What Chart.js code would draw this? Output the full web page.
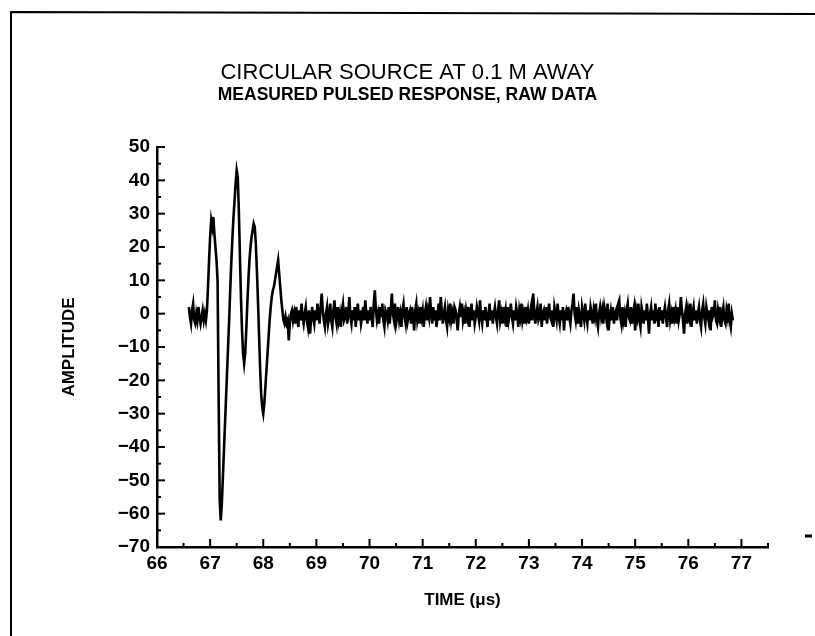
<!DOCTYPE html>
<html>
<head>
<meta charset="utf-8">
<script src="https://cdn.jsdelivr.net/npm/chart.js@4.4.1/dist/chart.umd.min.js"></script>
<style>
  html, body { margin: 0; padding: 0; background: #fff; }
  canvas { display: block; }
</style>
</head>
<body>
<canvas id="chart" width="815" height="636"></canvas>
<script>
// samples are evenly spaced in time, starting at sampleStart (µs)
const sampleStart = 66.6
const sampleStep = 0.02

// 66.60 .. 68.52, the pulse itself
const pulseValues = [
  2, -1, -3, 1, 3, -2, -3, 0, -2, 2, -1, -3, -1, 1, -2, 0, -2, 1,
  8, 16, 23, 28, 26, 29, 24, 20, 16, 10, -25, -56, -62, -57, -49, -41,
  -33, -25, -17, -9, -1, 8, 16, 23, 29, 34, 39, 43, 41, 31, 18, 5,
  -5, -12, -15, -12, -5, 3, 10, 16, 20, 23, 25, 27, 26, 21, 13, 4,
  -6, -16, -24, -28, -30, -27, -22, -17, -12, -7, -2, 2, 5, 7, 8, 10,
  12, 14, 16, 12, 8, 4, 1, -2, -3, -1, -3, -2, -8, -3, 0,
]

// 68.54 .. 76.84, background noise after the pulse
const noiseValues = [
  1, -2, 0, -3, 2, -1, -4, 1, -2, 3, -1, -3, 0, 2, -2, -4, 1, -6, -2, 2,
  -1, -3, 1, -2, 3, 0, -3, 2, 6, 1, -2, -4, 0, 2, -3, -1, 3, -2, -4, 1,
  4, -1, -3, 2, -2, 0, -4, 1, 3, -2, -1, 2, -3, 0, 5, -1, -3, 1, -2, 2,
  -4, 0, 3, -2, 1, -3, -1, 2, -2, 4, 0, -3, 1, -2, 2, -1, -4, 3, 7, 1,
  -2, 0, -3, 2, -1, 3, -2, -4, 1, 0, -2, 2, -3, 1, 6, 0, -2, 3, -3, -1,
  2, -2, 0, -4, 1, 3, -1, -3, 2, -2, 0, 1, -3, 2, -1, -5, 1, 3, -2, 0,
  -3, 2, -1, 1, -4, 0, 2, -2, 1, -1, 5, 0, -3, 2, -2, 1, -4, -1, 3, -2,
  5, 1, -3, 0, 2, -2, -4, 1, -1, 3, -2, 0, -3, 2, 1, -2, -5, 0, 2, -1,
  3, -2, 0, -3, 1, -1, 2, -4, 0, 3, -2, 1, -3, -1, 2, 0, -2, 4, -1, -3,
  1, -2, 2, -1, -4, 0, 3, -2, 1, -3, 0, 2, -1, -3, 1, 4, -2, 0, -3, 2,
  -1, 1, -4, 2, -2, 0, 3, -1, -3, 1, -2, 2, 0, -4, 1, -1, 3, -2, 0, -3,
  2, -1, 1, -3, 0, 2, -2, 6, 1, -3, 0, 2, -2, -1, 3, -4, 0, 1, -2, 2,
  -3, 0, 3, -1, -2, 1, -4, 2, 0, -2, 3, -1, -3, 1, -2, 2, -5, 0, 1, -2,
  2, -1, -3, 1, 3, 6, 0, -2, 2, -3, 1, -1, -4, 2, 0, -2, 3, -1, -3, 1,
  -2, 2, 0, -3, 1, -1, 3, -2, -4, 0, 2, -1, 1, -3, 2, 0, -2, 3, -5, -1,
  1, -2, 2, -3, 0, 1, -2, 3, 4, -1, -3, 2, -2, 0, -4, 1, 3, -1, -2, 2,
  -3, 0, 2, -5, 1, -1, 3, -2, -4, 2, 0, -3, 1, -2, 3, -1, -6, 0, 2, -2,
  1, -3, 3, -1, 0, -4, 2, -2, 1, -3, 0, 2, -1, -4, 1, 3, -2, 0, -3, 2,
  -1, 1, -3, 2, -2, 0, 5, 1, -2, -6, 0, 2, -3, 1, -1, 3, -4, 0, 2, -2,
  1, -3, 0, 2, -2, -4, 1, 3, -1, -3, 2, 0, -2, 1, -5, 2, -1, 0, 4, -2,
  -3, 1, -1, 2, -4, 0, 2, -2, -3, 1, -1, 3, -2, -4, 0, -2,
]

const xTickLabels = [66, 67, 68, 69, 70, 71, 72, 73, 74, 75, 76, 77]
const yTickLabels = [50, 40, 30, 20, 10, 0, -10, -20, -30, -40, -50, -60, -70]

const titleText = 'CIRCULAR SOURCE AT 0.1 M AWAY'
const subtitleText = 'MEASURED PULSED RESPONSE, RAW DATA'

let amplitude = pulseValues.concat(noiseValues)
let points = amplitude.map((v, i) => ({
  x: +(sampleStart + i * sampleStep).toFixed(2),
  y: v,
}))

function minusSign(v) {
  return String(v).replace('-', '\u2212')
}

// titles, page frame and inward pointing tick marks
const decorations = {
  id: 'decorations',
  afterDraw(chart) {
    let ctx = chart.ctx
    let x = chart.scales.x
    let y = chart.scales.y
    ctx.save()
    ctx.fillStyle = '#000'
    ctx.textAlign = 'center'
    ctx.textBaseline = 'middle'
    ctx.font = '22px "Liberation Sans", Arial, sans-serif'
    ctx.fillText(titleText, chart.width / 2, 73)
    ctx.font = 'bold 17.5px "Liberation Sans", Arial, sans-serif'
    ctx.fillText(subtitleText, chart.width / 2, 95)

    ctx.strokeStyle = '#000'
    ctx.lineWidth = 2
    ctx.beginPath()
    ctx.moveTo(11, 636)
    ctx.lineTo(11, 12)
    ctx.lineTo(815, 14)
    ctx.stroke()
    ctx.lineWidth = 3
    ctx.beginPath()
    ctx.moveTo(805, 536)
    ctx.lineTo(812, 536)
    ctx.stroke()

    ctx.lineWidth = 2
    x.ticks.forEach(t => {
      let px = x.getPixelForValue(t.value)
      let len = xTickLabels.includes(t.value) ? 8 : 4
      ctx.beginPath()
      ctx.moveTo(px, x.top)
      ctx.lineTo(px, x.top - len)
      ctx.stroke()
    })
    y.ticks.forEach(t => {
      let py = y.getPixelForValue(t.value)
      let len = yTickLabels.includes(t.value) ? 8 : 4
      ctx.beginPath()
      ctx.moveTo(y.right, py)
      ctx.lineTo(y.right + len, py)
      ctx.stroke()
    })
    ctx.restore()
  },
}

const tickFont = { family: '"Liberation Sans", Arial, sans-serif', size: 19, weight: 'bold' }
const axisTitleFont = { family: '"Liberation Sans", Arial, sans-serif', size: 17, weight: 'bold' }

new Chart(document.getElementById('chart'), {
  type: 'line',
  data: {
    datasets: [
      {
        data: points,
        borderColor: '#000',
        borderWidth: 2.6,
        pointRadius: 0,
        tension: 0,
        fill: false,
      },
    ],
  },
  options: {
    responsive: false,
    animation: false,
    layout: { padding: { top: 147, right: 47, left: 0, bottom: 0 } },
    plugins: {
      legend: { display: false },
      tooltip: { enabled: false },
    },
    scales: {
      x: {
        type: 'linear',
        min: 66,
        max: 77.5,
        grid: { display: false, drawTicks: false },
        border: { display: true, color: '#000', width: 2.5 },
        ticks: {
          stepSize: 0.5,
          includeBounds: false,
          autoSkip: false,
          maxRotation: 0,
          padding: 5,
          color: '#000',
          font: tickFont,
          callback: v => (xTickLabels.includes(v) ? String(v) : ''),
        },
        title: {
          display: true,
          text: 'TIME (\u03bcs)',
          color: '#000',
          font: axisTitleFont,
          padding: { top: 0, bottom: 25 },
        },
        afterFit(scale) {
          scale.height = 89
        },
      },
      y: {
        min: -70,
        max: 50,
        grid: { display: false, drawTicks: false },
        border: { display: true, color: '#000', width: 2.5 },
        ticks: {
          stepSize: 5,
          autoSkip: false,
          padding: 7,
          color: '#000',
          font: tickFont,
          callback: v => (yTickLabels.includes(v) ? minusSign(v) : ''),
        },
        title: {
          display: true,
          text: 'AMPLITUDE',
          color: '#000',
          font: axisTitleFont,
          padding: { top: 59, bottom: 0 },
        },
        afterFit(scale) {
          scale.width = 157
        },
      },
    },
  },
  plugins: [decorations],
})
</script>
</body>
</html>
